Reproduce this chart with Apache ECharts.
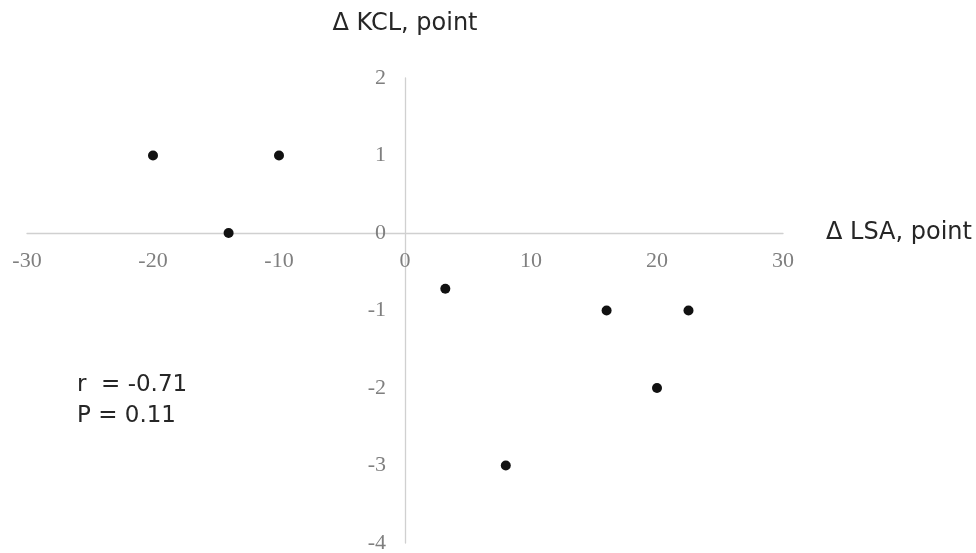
<!DOCTYPE html>
<html>
<head>
<meta charset="utf-8">
<script src="https://cdn.jsdelivr.net/npm/echarts@6/dist/echarts.min.js"></script>
<style>html,body{margin:0;padding:0;background:#fff}#c{width:976px;height:553px}</style>
</head>
<body>
<div id="c"></div>
<script>
const xValues = [-20, -10, -14, 3.2, 16, 22.5, 20, 8];
const yValues = [1, 1, 0, -0.72, -1, -1, -2, -3];
const xName = 'Δ LSA, point';
const yName = 'Δ KCL, point';
const statLines = ['r  = -0.71', 'P = 0.11'];

const W = 976, H = 553;
const G = {left: 27, right: 193, top: 78, bottom: 10};
const xMin = -30, xMax = 30, yMin = -4, yMax = 2;
// offsets that move each axis onto the other axis's zero
const plotW = W - G.left - G.right, plotH = H - G.top - G.bottom;
const xAxisOffset = -plotH * (0 - yMin) / (yMax - yMin);
const yAxisOffset = -plotW * (0 - xMin) / (xMax - xMin);

const chart = echarts.init(document.getElementById('c'));
const sans = '"DejaVu Sans", "Noto Sans", sans-serif';
const serif = '"Liberation Serif", "Times New Roman", serif';
chart.setOption({
  animation: false,
  grid: Object.assign({containLabel: false, outerBoundsMode: 'none'}, G),
  xAxis: {
    type: 'value', min: xMin, max: xMax, interval: 10,
    position: 'bottom', offset: xAxisOffset,
    axisLine: {onZero: false, lineStyle: {color: '#d0d0d0', width: 1.3}},
    axisTick: {show: false}, splitLine: {show: false},
    axisLabel: {fontFamily: serif, fontSize: 22, color: '#7f7f7f', margin: 17},
    name: xName, nameLocation: 'end', nameGap: 43,
    nameTextStyle: {fontFamily: sans, fontSize: 24, color: '#262626', padding: [12, 0, 0, 0]}
  },
  yAxis: {
    type: 'value', min: yMin, max: yMax, interval: 1,
    position: 'left', offset: yAxisOffset,
    axisLine: {onZero: false, lineStyle: {color: '#d0d0d0', width: 1.3}},
    axisTick: {show: false}, splitLine: {show: false},
    axisLabel: {fontFamily: serif, fontSize: 22, color: '#7f7f7f', margin: 19},
    name: yName, nameLocation: 'end', nameGap: 42,
    nameTextStyle: {fontFamily: sans, fontSize: 24, color: '#262626'}
  },
  series: [{
    type: 'scatter',
    data: xValues.map((x, i) => [x, yValues[i]]),
    symbolSize: 10,
    itemStyle: {color: '#111111', opacity: 1}
  }],
  graphic: [{
    type: 'text', left: 77, top: 370,
    style: {text: statLines.join('\n'), fontFamily: sans, fontSize: 23, lineHeight: 31, fill: '#262626'}
  }]
});
</script>
</body>
</html>
